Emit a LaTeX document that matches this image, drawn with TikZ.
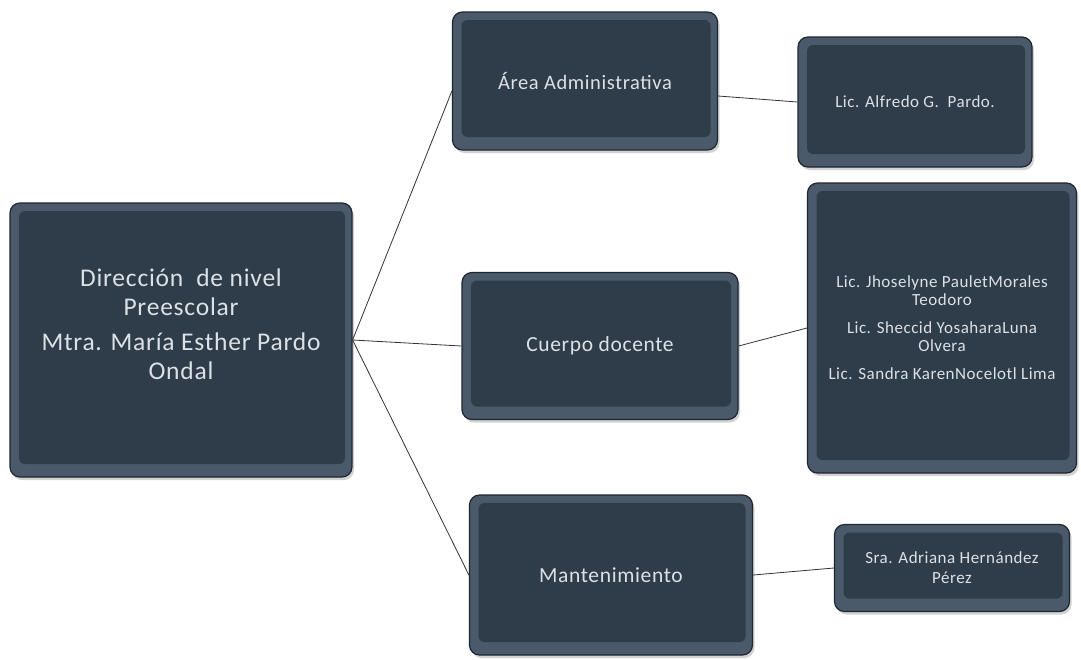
\documentclass[tikz,border=0pt]{standalone}
\usepackage{fontspec}
\setmainfont{Carlito}[LetterSpace=3]
\usetikzlibrary{shadows}
\definecolor{bevel}{HTML}{4A5A6A}
\definecolor{face}{HTML}{2F3C4A}
\definecolor{edge}{HTML}{1E2630}
\definecolor{txt}{HTML}{DCE1E6}
\tikzset{
  orgbox/.style={draw=edge, line width=1.2pt, fill=bevel, rounded corners=10pt,
    text=txt, align=center, inner sep=0pt,
    drop shadow={shadow xshift=2pt, shadow yshift=-3pt, opacity=0.35, fill=gray},
    path picture={\fill[face, rounded corners=6pt]
      ([shift={(9pt,-8pt)}]path picture bounding box.north west) rectangle
      ([shift={(-7pt,13pt)}]path picture bounding box.south east);}},
  link/.style={draw=black!80, line width=0.8pt}
}
\begin{document}
\begin{tikzpicture}[x=1pt,y=-1pt]
\useasboundingbox[fill=white] (0,0) rectangle (1081,659);
\node[orgbox, minimum width=342pt, minimum height=274pt,
  font=\fontsize{25.5}{29}\selectfont] (root) at (181,340)
  {Dirección\ \ de nivel\\Preescolar\\[6pt]Mtra. María Esther Pardo\\Ondal\\[2pt]};
\node[orgbox, minimum width=265pt, minimum height=138pt,
  font=\fontsize{20.5}{24}\selectfont] (area) at (585,81) {Área Administrativa};
\node[orgbox, minimum width=234pt, minimum height=130pt,
  font=\fontsize{17}{20}\selectfont] (alf) at (915,102) {Lic. Alfredo G.\ \ Pardo.};
\node[orgbox, minimum width=276pt, minimum height=147pt,
  font=\fontsize{21.5}{25}\selectfont] (cuerpo) at (600,346) {Cuerpo docente};
\node[orgbox, minimum width=269pt, minimum height=290pt,
  font=\fontsize{17}{18}\selectfont] (docs) at (942,328)
  {Lic. Jhoselyne PauletMorales\\Teodoro\\[10pt]Lic. Sheccid YosaharaLuna\\Olvera\\[10pt]Lic. Sandra KarenNocelotl Lima};
\node[orgbox, minimum width=283pt, minimum height=160pt,
  font=\fontsize{21.5}{25}\selectfont] (mant) at (611,575) {Mantenimiento};
\node[orgbox, minimum width=235pt, minimum height=87pt,
  font=\fontsize{17}{20}\selectfont] (sra) at (952,568) {Sra. Adriana Hernández\\Pérez};
\draw[link] (root.east) -- ([yshift=-10pt]area.west);
\draw[link] (root.east) -- (cuerpo.west);
\draw[link] (root.east) -- (mant.west);
\draw[link] ([yshift=-15pt]area.east) -- (alf.west);
\draw[link] (cuerpo.east) -- (docs.west);
\draw[link] (mant.east) -- (sra.west);
\end{tikzpicture}
\end{document}
